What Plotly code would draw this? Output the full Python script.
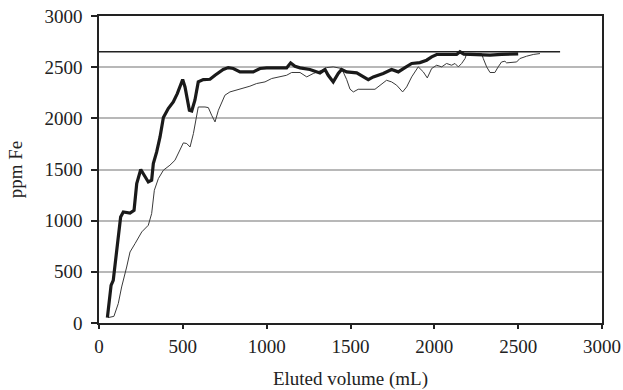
import plotly.graph_objects as go

# Thick series (ppm Fe vs eluted volume)
thick_x = [50, 61, 72, 85, 101, 115, 129, 145, 185, 209, 225, 249, 264, 294, 314, 324, 344, 364, 384, 413,
           443, 467, 499, 513, 539, 553, 572, 592, 622, 662, 692, 721, 741, 771, 801, 841, 920, 960, 1000,
           1119, 1143, 1169, 1199, 1258, 1298, 1318, 1348, 1367, 1397, 1427, 1447, 1477, 1537, 1576, 1606,
           1636, 1695, 1745, 1785, 1825, 1865, 1914, 1954, 1984, 2014, 2133, 2153, 2176, 2272, 2332, 2400, 2500]
thick_y = [53, 190, 368, 417, 645, 808, 1036, 1085, 1075, 1100, 1363, 1500, 1460, 1378, 1395, 1558, 1672, 1818,
           2008, 2096, 2160, 2242, 2379, 2307, 2079, 2072, 2177, 2356, 2379, 2382, 2421, 2454, 2477, 2496,
           2487, 2454, 2454, 2487, 2493, 2493, 2542, 2509, 2493, 2477, 2460, 2444, 2477, 2421, 2356, 2438,
           2477, 2454, 2444, 2405, 2379, 2405, 2438, 2477, 2454, 2496, 2536, 2545, 2568, 2600, 2624, 2624,
           2650, 2627, 2617, 2617, 2625, 2630]

# Thin series
thin_x = [55, 89, 115, 135, 165, 185, 215, 255, 294, 314, 330, 354, 384, 423, 453, 479, 503, 523, 543, 563,
          578, 592, 632, 652, 672, 692, 712, 731, 751, 781, 821, 861, 900, 940, 990, 1030, 1079, 1119, 1149,
          1199, 1239, 1278, 1328, 1358, 1397, 1447, 1477, 1497, 1517, 1546, 1646, 1676, 1715, 1745, 1775,
          1811, 1835, 1865, 1904, 1934, 1958, 1984, 2014, 2044, 2073, 2103, 2123, 2143, 2163, 2183, 2193,
          2232, 2282, 2292, 2312, 2332, 2361, 2381, 2401, 2421, 2431, 2491, 2510, 2550, 2590, 2630]
thin_y = [53, 65, 190, 352, 547, 694, 776, 890, 955, 1069, 1297, 1411, 1493, 1542, 1590, 1672, 1760, 1754,
          1720, 1851, 1981, 2111, 2111, 2105, 2030, 1965, 2079, 2145, 2226, 2258, 2275, 2291, 2314, 2340,
          2356, 2389, 2405, 2421, 2448, 2448, 2405, 2438, 2470, 2496, 2503, 2487, 2380, 2285, 2258, 2284,
          2284, 2324, 2372, 2356, 2324, 2258, 2307, 2405, 2503, 2454, 2395, 2487, 2519, 2503, 2536, 2519,
          2536, 2503, 2536, 2584, 2633, 2633, 2633, 2584, 2503, 2448, 2448, 2503, 2551, 2558, 2542, 2551,
          2584, 2607, 2624, 2633]

# Reference level line
ref_x = [0, 2750]
ref_y = [2650, 2650]

x_ticks = [0, 500, 1000, 1500, 2000, 2500, 3000]
y_ticks = [0, 500, 1000, 1500, 2000, 2500, 3000]

fig = go.Figure()
fig.add_trace(go.Scatter(x=ref_x, y=ref_y, mode="lines",
                         line=dict(color="#222222", width=1.5), showlegend=False))
fig.add_trace(go.Scatter(x=thin_x, y=thin_y, mode="lines",
                         line=dict(color="#3a3a3a", width=1), showlegend=False))
fig.add_trace(go.Scatter(x=thick_x, y=thick_y, mode="lines",
                         line=dict(color="#1a1a1a", width=3.2), showlegend=False))

font = dict(family="Liberation Serif", size=19, color="#222222")

fig.update_layout(
    width=623, height=390,
    margin=dict(l=99, r=21, t=16, b=67),
    paper_bgcolor="white", plot_bgcolor="white",
    font=font,
    xaxis=dict(range=[0, 3000], tickvals=x_ticks, ticks="outside", ticklen=4, tickwidth=1.5,
               tickcolor="#222222", showline=True, linecolor="#222222", linewidth=1.5, mirror=True,
               showgrid=False, zeroline=False, tickfont=font, ticklabelstandoff=1, automargin=False,
               title=dict(text="Eluted volume (mL)", standoff=16, font=font)),
    yaxis=dict(range=[0, 3000], tickvals=y_ticks, ticks="outside", ticklen=6, tickwidth=1.5,
               tickcolor="#222222", showline=True, linecolor="#222222", linewidth=1.5, mirror=True,
               showgrid=True, gridcolor="#b8b8b8", gridwidth=1.5, zeroline=False, tickfont=font,
               ticklabelstandoff=5, automargin=False,
               title=dict(text="ppm Fe", standoff=17, font=font)),
)

fig.write_html("out.html")
